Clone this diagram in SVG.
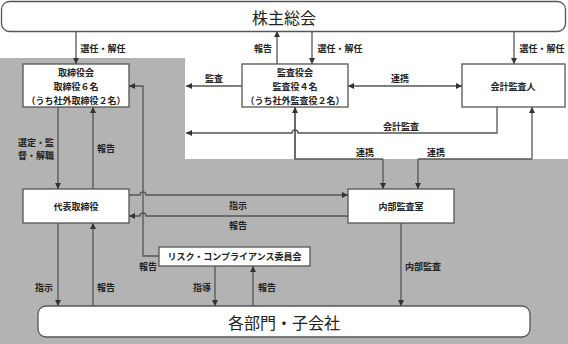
<svg xmlns="http://www.w3.org/2000/svg" width="568" height="344" viewBox="0 0 568 344">
<defs>
<marker id="ah" viewBox="0 0 6 6" refX="6" refY="3" markerWidth="6" markerHeight="6" markerUnits="userSpaceOnUse" orient="auto-start-reverse">
<path d="M0,0 L6,3 L0,6 z" fill="#333"/>
</marker>
<style>
.bx{fill:#fff;stroke:#555;stroke-width:1.3}
.ln{fill:none;stroke:#555;stroke-width:1.3}
.ar{marker-end:url(#ah)}
.bi{marker-start:url(#ah);marker-end:url(#ah)}
text{font-family:"Noto Sans CJK JP","Noto Sans",sans-serif;fill:#222;text-anchor:middle;dominant-baseline:central}
.s{font-size:9px;font-weight:bold}
.b{font-size:16px}
</style>
</defs>
<rect width="568" height="344" fill="#fff"/>
<path d="M0,58 H185 V159 H568 V344 H0 Z" fill="#b3b3b3"/>

<g id="connectors">
<path class="ln ar" d="M76,31 V64"/>
<path class="ln ar" d="M277,64 V31"/>
<path class="ln ar" d="M312,31 V64"/>
<path class="ln ar" d="M514,31 V64"/>
<path class="ln ar" d="M242,86 H186"/>
<path class="ln bi" d="M348,86 H462"/>
<path class="ln ar" d="M497,107 V133 H298 A3,3 0 0 0 292,133 H186"/>
<path class="ln" d="M295,107 V159 H383"/>
<path class="ln ar" d="M383,159 V189"/>
<path class="ln ar" d="M295,159 V107"/>
<path class="ln" d="M532,159 H418"/>
<path class="ln ar" d="M418,159 V189"/>
<path class="ln ar" d="M532,159 V107"/>
<path class="ln ar" d="M58,107 V189"/>
<path class="ln ar" d="M93,189 V107"/>
<path class="ln ar" d="M159,256 H143 V86 H129"/>
<path class="ln ar" d="M129,195 H140 A3,3 0 0 1 146,195 H348"/>
<path class="ln ar" d="M348,216 H146 A3,3 0 0 0 140,216 H129"/>
<path class="ln ar" d="M58,223 V306"/>
<path class="ln ar" d="M93,306 V223"/>
<path class="ln ar" d="M215,266 V306"/>
<path class="ln ar" d="M253,306 V266"/>
<path class="ln ar" d="M401,223 V306"/>
</g>

<g id="labels">
<text class="s" x="103" y="48">選任・解任</text>
<text class="s" x="263" y="48">報告</text>
<text class="s" x="340" y="48">選任・解任</text>
<text class="s" x="542" y="48">選任・解任</text>
<text class="s" x="214" y="78">監査</text>
<text class="s" x="400" y="78">連携</text>
<text class="s" x="401" y="126">会計監査</text>
<text class="s" x="365" y="152">連携</text>
<text class="s" x="436" y="152">連携</text>
<text class="s" x="36" y="142">選定・監</text>
<text class="s" x="36" y="155">督・解職</text>
<text class="s" x="106" y="148">報告</text>
<text class="s" x="238" y="205">指示</text>
<text class="s" x="238" y="225">報告</text>
<text class="s" x="148" y="266">報告</text>
<text class="s" x="44" y="287">指示</text>
<text class="s" x="106" y="287">報告</text>
<text class="s" x="202" y="287">指導</text>
<text class="s" x="267" y="287">報告</text>
<text class="s" x="423" y="266">内部監査</text>
</g>

<g id="n-shareholders">
<rect class="bx" x="1.5" y="1.5" width="564" height="30" rx="8"/>
<text class="b" x="284" y="17">株主総会</text>
</g>
<g id="n-board">
<rect class="bx" x="23" y="64" width="106" height="43"/>
<text class="s" x="76" y="72">取締役会</text>
<text class="s" x="76" y="86">取締役６名</text>
<text class="s" x="76" y="100">（うち社外取締役２名）</text>
</g>
<g id="n-auditors">
<rect class="bx" x="242" y="64" width="106" height="43"/>
<text class="s" x="295" y="72">監査役会</text>
<text class="s" x="295" y="86">監査役４名</text>
<text class="s" x="295" y="100">（うち社外監査役２名）</text>
</g>
<g id="n-accounting">
<rect class="bx" x="462" y="64" width="103" height="43"/>
<text class="s" x="513" y="86">会計監査人</text>
</g>
<g id="n-ceo">
<rect class="bx" x="23" y="189" width="106" height="34"/>
<text class="s" x="76" y="206">代表取締役</text>
</g>
<g id="n-internal">
<rect class="bx" x="348" y="189" width="106" height="34"/>
<text class="s" x="401" y="206">内部監査室</text>
</g>
<g id="n-risk">
<rect class="bx" x="159" y="247" width="151" height="19"/>
<text class="s" x="234.5" y="256.5">リスク・コンプライアンス委員会</text>
</g>
<g id="n-divisions">
<rect class="bx" x="38" y="306" width="492" height="31" rx="8"/>
<text class="b" x="284" y="322">各部門・子会社</text>
</g>
</svg>
